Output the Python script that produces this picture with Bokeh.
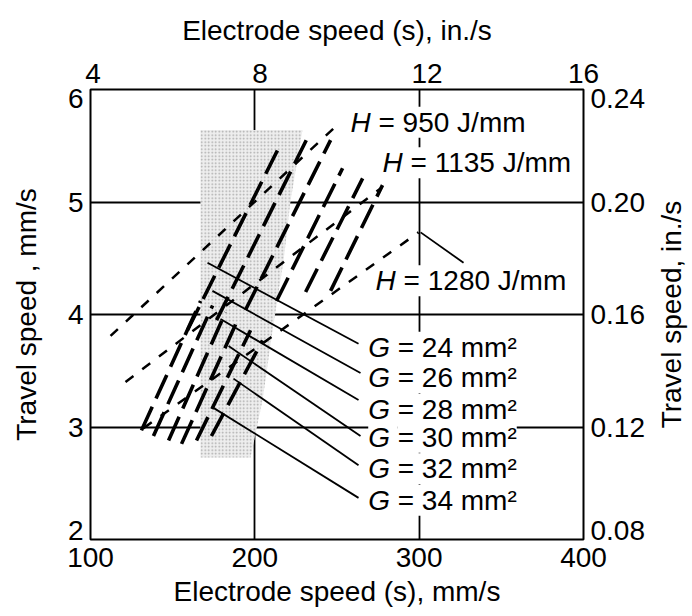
import math
from bokeh.plotting import figure
from bokeh.layouts import row
from bokeh.models import LinearAxis, FixedTicker, Range1d
from bokeh.embed import file_html
from bokeh.resources import INLINE
from bokeh.core.properties import value

# ---------------- data ----------------
x_ticks_mm = [100, 200, 300, 400]
x_labels_mm = ["100", "200", "300", "400"]
x_ticks_in_pos = [101.6, 203.2, 304.8, 400]
x_labels_in = ["4", "8", "12", "16"]
y_ticks_pos = [2.08, 3, 4, 5, 5.92]
y_labels_mm = ["2", "3", "4", "5", "6"]
y_labels_in = ["0.08", "0.12", "0.16", "0.20", "0.24"]
grid_x = [200, 300]
grid_y = [3, 4, 5]

# constant heat-input lines (H, J/mm)
h_values = [950, 1135, 1280]
h_x0 = [112.2, 121.3, 132.3]
h_y0 = [3.81, 3.40, 2.99]
h_x1 = [249.1, 276.5, 299.6]
h_y1 = [5.67, 5.12, 4.73]
h_label_x = [258.2, 277.7, 273.5]
h_label_y = [5.71, 5.35, 4.30]

# constant groove-area lines (G, mm^2): upper and lower sets
g_values = [24, 26, 28, 30, 32, 34]
g_up_x0 = [159.0, 176.7, 194.3, 213.2, 230.9, 246.1]
g_up_y0 = [3.86, 3.95, 4.04, 4.12, 4.20, 4.21]
g_up_x1 = [213.8, 232.7, 246.1, 253.4, 265.6, 277.7]
g_up_y1 = [5.46, 5.59, 5.55, 5.30, 5.21, 5.15]
g_lo_x0 = [131.0, 138.3, 147.5, 155.4, 164.5, 173.6]
g_lo_y0 = [2.97, 2.92, 2.88, 2.85, 2.88, 2.92]
g_lo_x1 = [167.0, 174.3, 182.2, 189.5, 197.4, 204.7]
g_lo_y1 = [4.12, 4.08, 4.02, 3.95, 3.86, 3.77]

# leader lines from G labels
g_lead_x0 = [171.2, 174.2, 179.1, 184.0, 187.0, 174.8]
g_lead_y0 = [4.46, 4.21, 3.96, 3.72, 3.43, 3.17]
g_lead_x1 = [263.1, 264.3, 263.1, 264.3, 263.1, 263.1]
g_lead_y1 = [3.74, 3.48, 3.24, 2.92, 2.66, 2.37]
g_label_x = [269, 269, 269, 269, 269, 269]
g_label_y = [3.71, 3.44, 3.16, 2.91, 2.63, 2.35]

# leader for H = 1280 label
h_lead_x = [300.9, 327.0]
h_lead_y = [4.73, 4.46]

# shaded region
shade_x = [166.9, 229.0, 221.7, 217.5, 210.8, 204.7, 197.4, 166.9]
shade_y = [5.64, 5.64, 5.01, 4.48, 3.86, 3.24, 2.73, 2.73]

right_title_text = "Travel speed, in./s"

# ---------------- figure ----------------
FONT = "Liberation Sans"
FS = "28px"

p = figure(frame_width=493, frame_height=450,
           x_range=Range1d(100, 400), y_range=Range1d(2, 6),
           output_backend="svg", toolbar_location=None,
           min_border_left=90, min_border_right=70,
           min_border_top=89, min_border_bottom=66)
p.background_fill_color = "white"
p.border_fill_color = "white"
p.outline_line_color = "black"
p.outline_line_width = 2

bottom = p.below[0]
left = p.left[0]
bottom.ticker = FixedTicker(ticks=x_ticks_mm)
bottom.major_label_overrides = dict(zip(x_ticks_mm, x_labels_mm))
bottom.axis_label = "Electrode speed (s), mm/s"
left.ticker = FixedTicker(ticks=y_ticks_pos)
left.major_label_overrides = dict(zip(y_ticks_pos, y_labels_mm))
left.axis_label = "Travel speed , mm/s"

top = LinearAxis(ticker=FixedTicker(ticks=x_ticks_in_pos),
                 major_label_overrides=dict(zip(x_ticks_in_pos, x_labels_in)),
                 axis_label="Electrode speed (s), in./s")
p.add_layout(top, "above")
right = LinearAxis(ticker=FixedTicker(ticks=y_ticks_pos),
                   major_label_overrides=dict(zip(y_ticks_pos, y_labels_in)))
p.add_layout(right, "right")

for ax in [bottom, left, top, right]:
    ax.axis_line_color = None
    ax.major_tick_in = 0
    ax.major_tick_out = 0
    ax.minor_tick_in = 0
    ax.minor_tick_out = 0
    ax.major_label_text_font = FONT
    ax.major_label_text_font_size = FS
    ax.major_label_text_color = "black"
    ax.axis_label_text_font = FONT
    ax.axis_label_text_font_size = FS
    ax.axis_label_text_font_style = "normal"
    ax.axis_label_text_color = "black"

bottom.major_label_standoff = 8
bottom.axis_label_standoff = 6
top.major_label_standoff = 7
top.axis_label_standoff = 15
left.major_label_standoff = 7
left.axis_label_standoff = 23
right.major_label_standoff = 7

p.xgrid.ticker = FixedTicker(ticks=grid_x)
p.ygrid.ticker = FixedTicker(ticks=grid_y)
for g in [p.xgrid[0], p.ygrid[0]]:
    g.grid_line_color = "black"
    g.grid_line_width = 1.8
    g.grid_line_alpha = 1.0

# shaded region
p.patch(shade_x, shade_y, fill_color="#eeeeee", line_color=None,
        hatch_pattern="dot", hatch_color="#a8a8a8", hatch_scale=3.5, hatch_weight=1)

# H lines
p.segment(h_x0, h_y0, h_x1, h_y1, line_color="black", line_width=2.5, line_dash="10 11")
# G lines
p.segment(g_up_x0, g_up_y0, g_up_x1, g_up_y1, line_color="black", line_width=3.6, line_dash="26 9")
p.segment(g_lo_x0, g_lo_y0, g_lo_x1, g_lo_y1, line_color="black", line_width=3.6, line_dash="26 9")
# leaders
p.segment(g_lead_x0, g_lead_y0, g_lead_x1, g_lead_y1, line_color="black", line_width=1.8)
p.line(h_lead_x, h_lead_y, line_color="black", line_width=1.8)

# labels
h_rest = [f"= {h} J/mm" for h in h_values]
g_rest = [f"= {g} mm\u00b2" for g in g_values]
common = dict(text_font=value(FONT), text_font_size=FS, text_color="black",
              text_align="left", text_baseline="middle",
              background_fill_color="white")
p.text(x=h_label_x, y=h_label_y, text=["H\u00a0"] * 3, text_font_style="italic", **common)
p.text(x=h_label_x, y=h_label_y, text=h_rest, x_offset=28, **common)
p.text(x=g_label_x, y=g_label_y, text=["G\u00a0"] * 6, text_font_style="italic", **common)
p.text(x=g_label_x, y=g_label_y, text=g_rest, x_offset=29.5, **common)

# narrow side panel carrying the right-hand axis title (reads bottom to top)
side = figure(frame_width=36, frame_height=450,
              x_range=Range1d(0, 1), y_range=Range1d(2, 6),
              output_backend="svg", toolbar_location=None,
              x_axis_location=None, y_axis_location=None,
              min_border_left=0, min_border_right=0,
              min_border_top=89, min_border_bottom=73)
side.outline_line_color = None
side.background_fill_color = "white"
side.border_fill_color = "white"
side.grid.visible = False
side.text(x=[0.5], y=[4], text=[right_title_text], angle=math.pi / 2,
          text_align="center", text_baseline="middle",
          text_font=value(FONT), text_font_size=FS, text_color="black")

page = row(p, side)
open("out.html", "w").write(file_html(page, INLINE))
